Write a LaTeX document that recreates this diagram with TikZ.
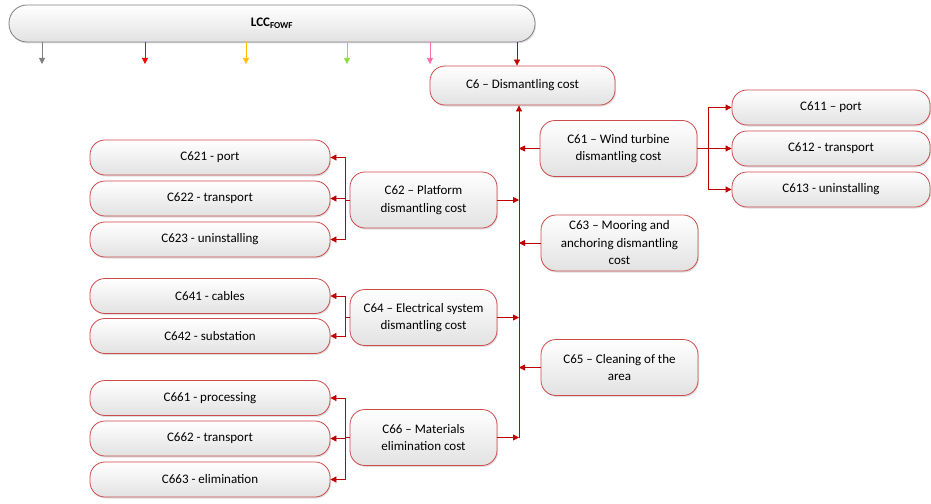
\documentclass[tikz,border=0pt]{standalone}
\usepackage{fontspec}
\setmainfont{Carlito}
\usetikzlibrary{arrows.meta,shadows}
\definecolor{bordercol}{RGB}{205,75,75}
\definecolor{linecol}{RGB}{192,0,0}
\definecolor{boxgrey}{RGB}{226,226,226}
\definecolor{greyarr}{RGB}{128,128,128}
\definecolor{redarr}{RGB}{255,0,0}
\definecolor{yelarr}{RGB}{255,192,0}
\definecolor{grnarr}{RGB}{146,220,60}
\definecolor{pinkarr}{RGB}{255,110,170}
\tikzset{
  box/.style={draw=bordercol, line width=0.8pt, rounded corners=15pt,
    top color=white, bottom color=boxgrey, align=center, inner sep=2pt,
    font=\fontsize{13}{17.5}\selectfont, text=black,
    drop shadow={shadow xshift=1pt, shadow yshift=-1.5pt, opacity=0.25}},
  widebox/.style={box, minimum width=240pt, minimum height=35pt},
  midbox/.style={box, minimum width=147pt, minimum height=56pt},
  con/.style={draw=linecol, line width=0.8pt, -{Triangle[width=6pt,length=6pt]}},
  topcon/.style={line width=0.8pt, -{Triangle[width=6pt,length=6pt]}},
}
\begin{document}
\begin{tikzpicture}[x=1pt,y=-1pt]
\useasboundingbox (0,0) rectangle (931,503);
% top box
\node[box, draw=gray, rounded corners=18pt, minimum width=526pt, minimum height=37pt] (lcc) at (272,23.5) {\textbf{LCC\textsubscript{FOWF}}};
\coordinate (a1) at (42,64);
\coordinate (a2) at (145,64);
\coordinate (a3) at (246,64);
\coordinate (a4) at (347,64);
\coordinate (a5) at (430,64);
\draw[topcon, draw=greyarr, fill=greyarr] (lcc.south -| a1) -- (a1);
\draw[topcon, draw=redarr, fill=redarr] (lcc.south -| a2) -- (a2);
\draw[topcon, draw=yelarr, fill=yelarr] (lcc.south -| a3) -- (a3);
\draw[topcon, draw=grnarr, fill=grnarr] (lcc.south -| a4) -- (a4);
\draw[topcon, draw=pinkarr, fill=pinkarr] (lcc.south -| a5) -- (a5);
% C6
\node[box, minimum width=185pt, minimum height=39pt] (c6) at (522.5,85.5) {C6 – Dismantling cost};
\coordinate (t6) at (517,0);
\draw[con] (lcc.south -| t6) -- (c6.north -| t6);
% right column
\node[midbox, minimum width=157pt] (c61) at (618.5,148.5) {C61 – Wind turbine\\dismantling cost};
\node[midbox, minimum width=157pt] (c63) at (619.5,243) {C63 – Mooring and\\anchoring dismantling\\cost};
\node[midbox, minimum width=157pt] (c65) at (619.5,367.5) {C65 – Cleaning of the\\area};
% left middle column
\node[midbox] (c62) at (423.5,200) {C62 – Platform\\dismantling cost};
\node[midbox] (c64) at (423.5,317.5) {C64 – Electrical system\\dismantling cost};
\node[midbox] (c66) at (423.5,437.5) {C66 – Materials\\elimination cost};
% far right
\node[widebox, minimum width=198pt] (c611) at (831,107.5) {C611 – port};
\node[widebox, minimum width=198pt] (c612) at (831,148.5) {C612 - transport};
\node[widebox, minimum width=198pt] (c613) at (831,189.5) {C613 - uninstalling};
% far left
\node[widebox] (c621) at (210,157.5) {C621 - port};
\node[widebox] (c622) at (210,198.5) {C622 - transport};
\node[widebox] (c623) at (210,239.5) {C623 - uninstalling};
\node[widebox] (c641) at (210,296) {C641 - cables};
\node[widebox] (c642) at (210,336) {C642 - substation};
\node[widebox] (c661) at (210,398) {C661 - processing};
\node[widebox] (c662) at (210,438.5) {C662 - transport};
\node[widebox] (c663) at (210,479.5) {C663 - elimination};
% trunk
\coordinate (trunk) at (519,0);
\draw[con] (c66.east -| trunk) -- (c6.south -| trunk);
\draw[con] (c66.east) -- (c66.east -| trunk);
\draw[con] (c64.east) -- (c64.east -| trunk);
\draw[con] (c62.east) -- (c62.east -| trunk);
\draw[con] (c61.west) -- (c61.west -| trunk);
\draw[con] (c63.west) -- (c63.west -| trunk);
\draw[con] (c65.west) -- (c65.west -| trunk);
% C61 children
\coordinate (j61) at (708,148.5);
\draw[con] (c61.east) -- (j61) |- (c611.west);
\draw[con] (c61.east) -- (c612.west);
\draw[con] (c61.east) -- (j61) |- (c613.west);
% C62 children
\coordinate (j62) at (345,200);
\draw[con] (c62.west) -- (j62) |- (c621.east);
\draw[con] (c62.west) -- (j62) |- (c622.east);
\draw[con] (c62.west) -- (j62) |- (c623.east);
% C64 children
\coordinate (j64) at (345,317.5);
\draw[con] (c64.west) -- (j64) |- (c641.east);
\draw[con] (c64.west) -- (j64) |- (c642.east);
% C66 children
\coordinate (j66) at (345,437.5);
\draw[con] (c66.west) -- (j66) |- (c661.east);
\draw[con] (c66.west) -- (j66) |- (c662.east);
\draw[con] (c66.west) -- (j66) |- (c663.east);
\end{tikzpicture}
\end{document}
